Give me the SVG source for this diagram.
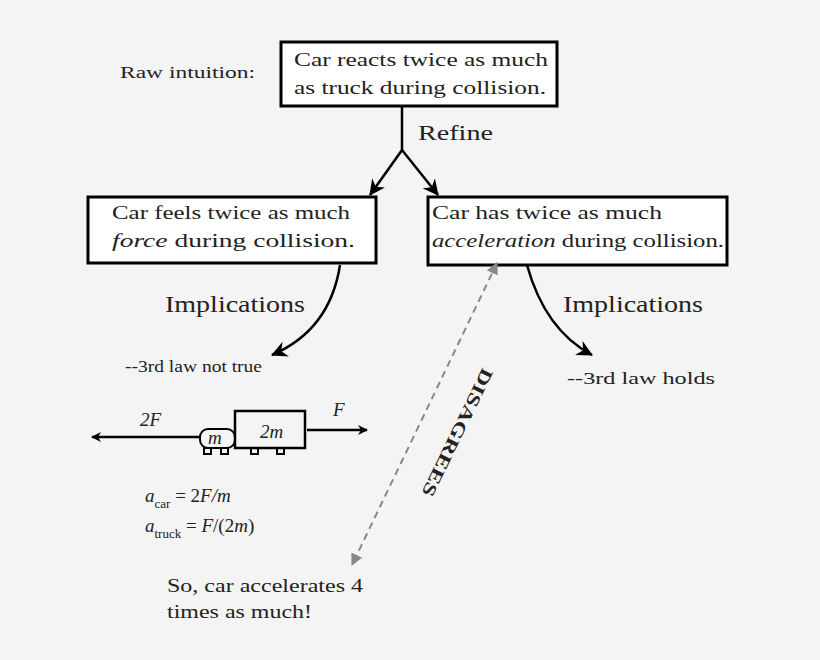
<svg xmlns="http://www.w3.org/2000/svg" width="820" height="660" viewBox="0 0 820 660" font-family="'Liberation Serif','DejaVu Serif',serif" font-size="17">
<defs>
<marker id="ah" markerWidth="10" markerHeight="10" refX="9" refY="5" orient="auto" markerUnits="userSpaceOnUse" viewBox="0 0 10 10"><path d="M0,0 L10,5 L0,10 L3,5 Z" fill="#000"/></marker>
<marker id="ab" markerWidth="16" markerHeight="16" refX="15" refY="8" orient="auto" markerUnits="userSpaceOnUse" viewBox="0 0 16 16"><path d="M0,0 L16,8 L0,16 L5,8 Z" fill="#000"/></marker>
<marker id="ag" markerWidth="12" markerHeight="12" refX="11" refY="6" orient="auto-start-reverse" markerUnits="userSpaceOnUse" viewBox="0 0 12 12"><path d="M0,0 L12,6 L0,12 Z" fill="#888"/></marker>
<style>
text{fill:#222}
.box{fill:#fff;stroke:#000;stroke-width:3}
.ln{fill:none;stroke:#000;stroke-width:2.5}
</style>
</defs>
<rect width="820" height="660" fill="#f4f4f4"/>
<text x="120" y="78" font-size="16" textLength="135" lengthAdjust="spacingAndGlyphs">Raw intuition:</text>
<g id="top" font-size="19"><rect class="box" x="281" y="42" width="276" height="64"/>
<text x="294" y="66" textLength="254" lengthAdjust="spacingAndGlyphs">Car reacts twice as much</text>
<text x="294" y="94" textLength="252" lengthAdjust="spacingAndGlyphs">as truck during collision.</text></g>
<g id="left" font-size="19"><rect class="box" x="88" y="197" width="288" height="66"/>
<text x="112" y="219" textLength="238" lengthAdjust="spacingAndGlyphs">Car feels twice as much</text>
<text x="112" y="247" textLength="243" lengthAdjust="spacingAndGlyphs"><tspan font-style="italic">force</tspan> during collision.</text></g>
<g id="right" font-size="19"><rect class="box" x="428" y="197" width="299" height="68"/>
<text x="432" y="219" textLength="230" lengthAdjust="spacingAndGlyphs">Car has twice as much</text>
<text x="432" y="247" textLength="292" lengthAdjust="spacingAndGlyphs"><tspan font-style="italic">acceleration</tspan> during collision.</text></g>
<g id="connectors">
<path class="ln" d="M402,106 V150 L370,195" marker-end="url(#ab)"/>
<path class="ln" d="M402,150 L438,195" marker-end="url(#ab)"/>
<path class="ln" d="M340,265 Q330,330 272,355" marker-end="url(#ab)"/>
<path class="ln" d="M527,265 Q545,330 592,355" marker-end="url(#ab)"/>
<path d="M497,263 L352,565" stroke="#888" stroke-width="2" stroke-dasharray="7,5" fill="none" marker-start="url(#ag)" marker-end="url(#ag)"/>
</g>
<text x="418" y="140" font-size="22" textLength="75" lengthAdjust="spacingAndGlyphs">Refine</text>
<text x="165" y="312" font-size="24" textLength="140" lengthAdjust="spacingAndGlyphs">Implications</text>
<text x="563" y="312" font-size="24" textLength="140" lengthAdjust="spacingAndGlyphs">Implications</text>
<text x="125" y="372" font-size="17" textLength="137" lengthAdjust="spacingAndGlyphs">--3rd law not true</text>
<text x="567" y="384" font-size="17" textLength="148" lengthAdjust="spacingAndGlyphs">--3rd law holds</text>
<text x="452" y="430" font-size="18" font-weight="bold" text-anchor="middle" transform="rotate(116 452 430)" textLength="140" lengthAdjust="spacingAndGlyphs">DISAGREES</text>
<g id="diagram">
<line x1="200" y1="437" x2="92" y2="437" class="ln" marker-end="url(#ah)"/>
<line x1="307" y1="430" x2="367" y2="430" class="ln" marker-end="url(#ah)"/>
<text x="140" y="426" font-style="italic" font-size="19">2F</text>
<text x="333" y="416" font-style="italic" font-size="19">F</text>
<rect x="200" y="429" width="35" height="19" rx="8" fill="none" stroke="#000" stroke-width="2"/>
<rect x="235" y="411" width="70" height="37" fill="none" stroke="#000" stroke-width="2.5"/>
<text x="208" y="444" font-style="italic" font-size="19">m</text>
<text x="260" y="438" font-style="italic" font-size="19">2m</text>
<g fill="none" stroke="#000" stroke-width="2"><rect x="204" y="448" width="7" height="6"/><rect x="221" y="448" width="7" height="6"/><rect x="251" y="448" width="7" height="6"/><rect x="277" y="448" width="7" height="6"/></g>
</g>
<text x="145" y="502" font-style="italic" font-size="19">a<tspan font-size="13" dy="6" font-style="normal">car</tspan><tspan dy="-6" font-style="normal"> = 2</tspan>F/m</text>
<text x="145" y="532" font-style="italic" font-size="19">a<tspan font-size="13" dy="6" font-style="normal">truck</tspan><tspan dy="-6" font-style="normal"> = </tspan>F<tspan font-style="normal">/(2</tspan>m<tspan font-style="normal">)</tspan></text>
<text x="167" y="592" font-size="19" textLength="196" lengthAdjust="spacingAndGlyphs">So, car accelerates 4</text>
<text x="167" y="618" font-size="19" textLength="145" lengthAdjust="spacingAndGlyphs">times as much!</text>
</svg>
